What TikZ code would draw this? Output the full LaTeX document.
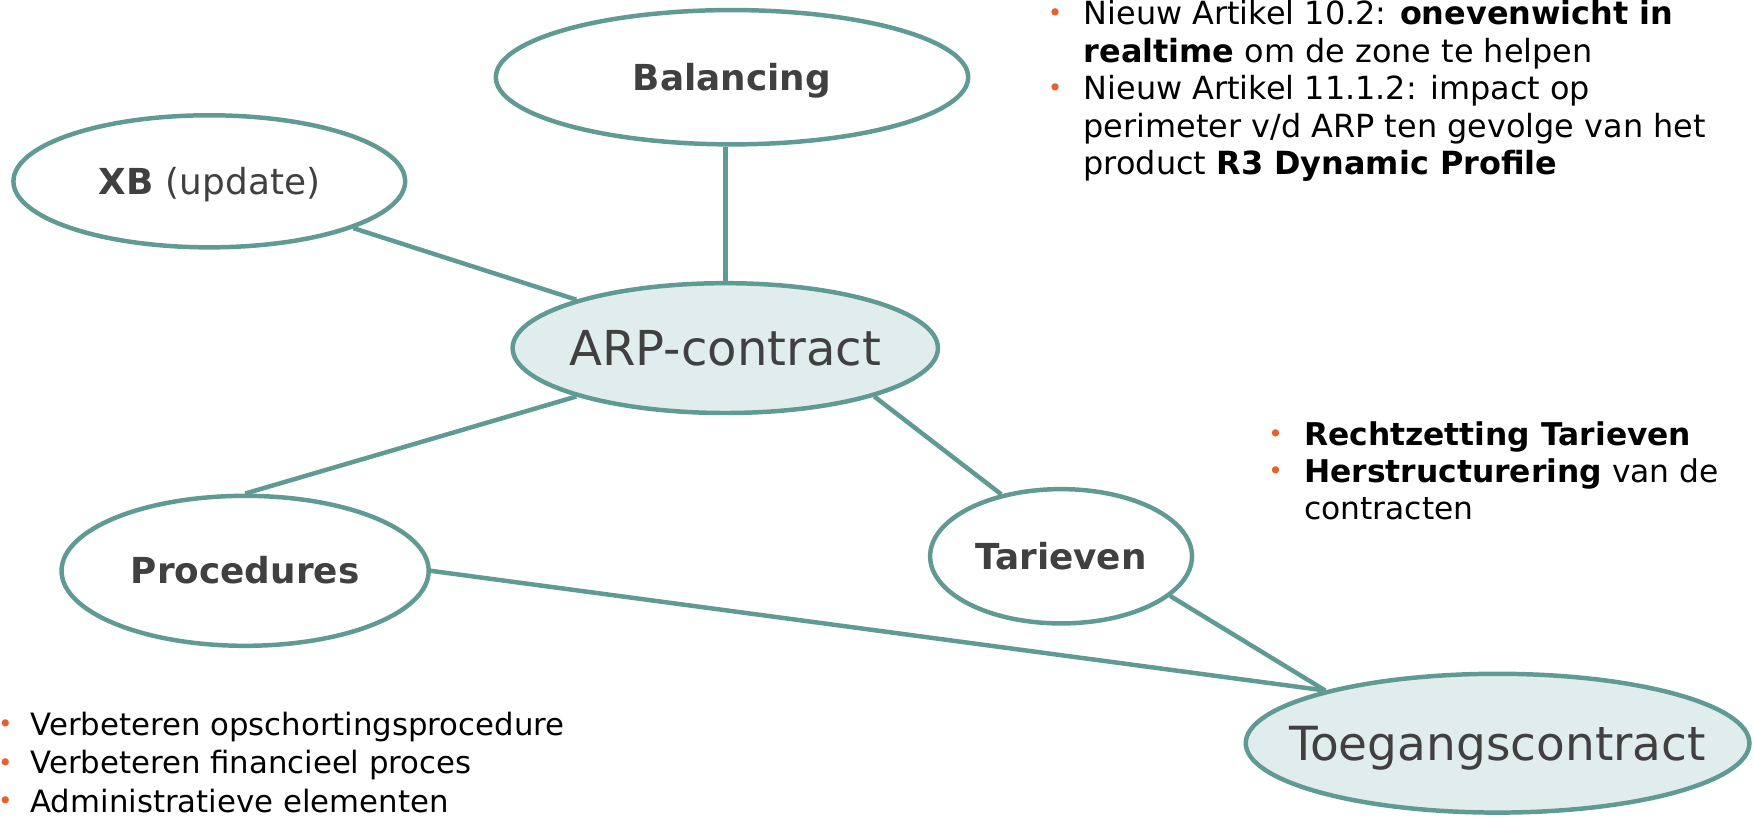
\documentclass[tikz,border=0pt]{standalone}
\usepackage{fontspec}
\setmainfont{DejaVu Sans}
\usetikzlibrary{shapes.geometric}
\definecolor{lnc}{HTML}{5F9A93}
\definecolor{fillc}{HTML}{E1EDEC}
\definecolor{txtc}{HTML}{404040}
\definecolor{bulc}{HTML}{E8602C}
\newcommand{\bulat}[1]{\llap{\textcolor{bulc}{\raisebox{2.5pt}{\fontsize{22}{22}\selectfont •}}\hspace{#1}}}
\newcommand{\bul}{\bulat{19pt}}
\newcommand{\bulL}{\bulat{16pt}}
\newcommand{\ctext}[1]{\raisebox{-0.36em}[0pt][0pt]{\makebox[0pt]{#1}}}
\begin{document}
\begin{tikzpicture}[x=1pt,y=-1pt,
  ell/.style 2 args={ellipse,draw=lnc,line width=4pt,fill=white,
    minimum width=#1,minimum height=#2,inner sep=0pt,text=txtc},
  small/.style={font=\fontsize{32}{38}\selectfont\bfseries},
  big/.style={font=\fontsize{43}{50}\selectfont,fill=fillc},
  conn/.style={draw=lnc,line width=4pt},
  bultxt/.style={inner sep=0pt,anchor=base west,align=left,
    font=\fontsize{28.5}{33.5}\selectfont}]
\useasboundingbox (0,0) rectangle (1568,730);
\node[ell={422}{120},small] (bal) at (654,69) {\ctext{Balancing}};
\node[ell={350}{118},small] (xb) at (187,162) {\ctext{XB \mdseries(update)}};
\node[ell={380}{116},big] (arp) at (648,311) {\ctext{ARP-contract}};
\node[ell={328}{134},small] (pro) at (219,510) {\ctext{Procedures}};
\node[ell={234}{120},small] (tar) at (948,497) {\ctext{Tarieven}};
\node[ell={450}{124},big,font=\fontsize{42}{50}\selectfont] (toe) at (1338,664) {\ctext{Toegangscontract}};
\draw[conn] (xb.-18.6) -- (arp.162);
\draw[conn] (arp.north) -- (arp.north |- bal.south);
\draw[conn] (arp.198.6) -- (pro.north);
\draw[conn] (arp.-18.3) -- (tar.134);
\draw[conn] (pro.east) -- (toe.163.3);
\draw[conn] (tar.-20) -- (toe.163.3);
\node[bultxt] (t1) at (968,156) {\bul Nieuw Artikel 10.2: \textbf{onevenwicht in}\\
  \textbf{realtime} om de zone te helpen\\
  \bul Nieuw Artikel 11.1.2: impact op\\
  perimeter v/d ARP ten gevolge van het\\
  product \textbf{R3 Dynamic Profile}};
\node[bultxt,font=\fontsize{28}{33}\selectfont] (t2) at (1165,464) {\bul\textbf{Rechtzetting Tarieven}\\
  \bul\textbf{Herstructurering} van de\\
  contracten};
\node[bultxt,font=\fontsize{27.5}{34.5}\selectfont] (t3) at (27,726) {\bulL Verbeteren opschortingsprocedure\\
  \bulL Verbeteren financieel proces\\
  \bulL Administratieve elementen};
\end{tikzpicture}
\end{document}
